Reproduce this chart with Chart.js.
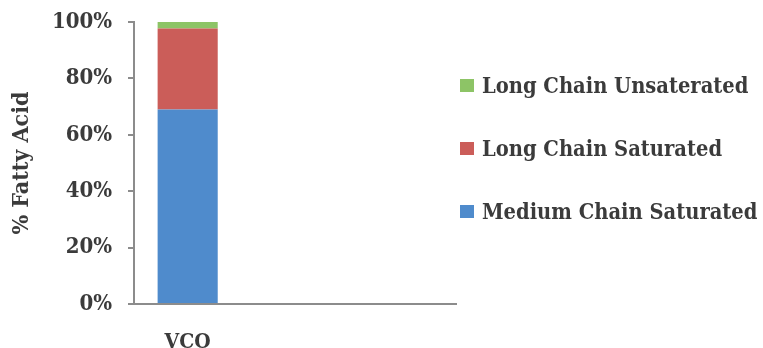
<!DOCTYPE html>
<html>
<head>
<meta charset="utf-8">
<script src="https://cdn.jsdelivr.net/npm/chart.js@4.4.1/dist/chart.umd.min.js"></script>
<style>
  html, body { margin: 0; padding: 0; background: #ffffff; }
  #wrap { width: 763px; height: 348px; }
</style>
</head>
<body>
<div id="wrap"><canvas id="c" width="763" height="348"></canvas></div>
<script>
// Fatty acid composition of virgin coconut oil (VCO), stacked to 100%
const categories = ['VCO', '', ''];
const mediumChainSaturated = [69.0];
const longChainSaturated = [28.7];
const longChainUnsaturated = [2.3];
const yTicks = [0, 20, 40, 60, 80, 100];

const seriesNames = ['Medium Chain Saturated', 'Long Chain Saturated', 'Long Chain Unsaterated'];
const seriesColors = ['#4f8bcc', '#cb5d59', '#8dc466'];

const FONT = '"DejaVu Serif Condensed", "DejaVu Serif", serif';
const TEXT = '#3b3b3b';

// Legend drawn at the right, top entry = top of stack
const sideLegend = {
  id: 'sideLegend',
  afterDraw(chart) {
    const ctx = chart.ctx;
    const items = chart.data.datasets.map(d => ({ label: d.label, color: d.backgroundColor })).reverse();
    const x0 = 460, y0 = 87, gap = 63, box = 14;
    ctx.save();
    ctx.font = 'bold 21.7px ' + FONT;
    ctx.textBaseline = 'middle';
    ctx.textAlign = 'left';
    items.forEach((it, i) => {
      const y = y0 + i * gap;
      ctx.fillStyle = it.color;
      ctx.fillRect(x0, y - box / 2 - 1, box, box - 1);
      ctx.fillStyle = TEXT;
      ctx.fillText(it.label, x0 + 22, y);
    });
    ctx.restore();
  }
};

new Chart(document.getElementById('c'), {
  type: 'bar',
  data: {
    labels: categories,
    datasets: [
      { label: seriesNames[0], data: mediumChainSaturated, backgroundColor: seriesColors[0] },
      { label: seriesNames[1], data: longChainSaturated, backgroundColor: seriesColors[1] },
      { label: seriesNames[2], data: longChainUnsaturated, backgroundColor: seriesColors[2] }
    ]
  },
  options: {
    responsive: false,
    animation: false,
    devicePixelRatio: 1,
    layout: { padding: { top: 22, right: 307, bottom: 0, left: 0 } },
    datasets: { bar: { categoryPercentage: 1, barPercentage: 0.56, borderWidth: 0 } },
    plugins: { legend: { display: false }, tooltip: { enabled: false } },
    scales: {
      x: {
        stacked: true,
        grid: { display: false, drawTicks: false },
        border: { display: true, color: '#8c8c8c', width: 2 },
        ticks: { color: TEXT, font: { family: FONT, size: 21, weight: 'bold' }, padding: 26, maxRotation: 0 },
        afterFit(scale) { scale.height = 44; }
      },
      y: {
        stacked: true,
        min: 0,
        max: 100,
        afterBuildTicks(scale) { scale.ticks = yTicks.map(v => ({ value: v })); },
        grid: { drawOnChartArea: false, drawTicks: true, tickLength: 6, color: '#8c8c8c', lineWidth: 2 },
        border: { display: true, color: '#8c8c8c', width: 2 },
        ticks: {
          color: TEXT,
          font: { family: FONT, size: 22, weight: 'bold' },
          padding: 16,
          callback: v => v + '%'
        },
        title: {
          display: true,
          text: '% Fatty Acid',
          color: TEXT,
          font: { family: FONT, size: 23, weight: 'bold' },
          padding: { top: 8, bottom: 0 }
        },
        afterFit(scale) {
          scale.width = 134;
          scale.paddingTop = 0;
          scale.paddingBottom = 0;
        }
      }
    }
  },
  plugins: [sideLegend]
});
</script>
</body>
</html>
